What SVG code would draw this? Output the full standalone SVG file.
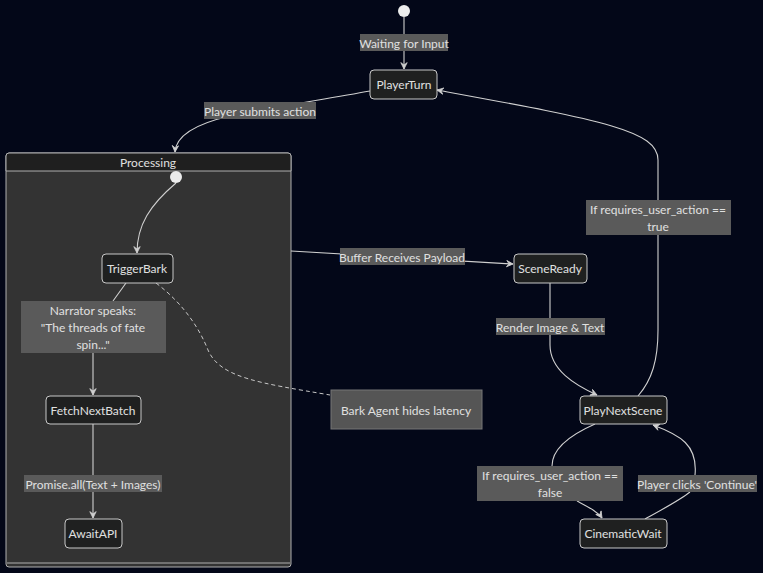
<svg xmlns="http://www.w3.org/2000/svg" width="763" height="573" viewBox="0 0 763 573">
<defs>
<marker id="arr" viewBox="0 0 10 10" refX="9" refY="5" markerWidth="8" markerHeight="8" orient="auto-start-reverse" markerUnits="userSpaceOnUse">
<path d="M1,1 L9,5 L1,9 L4,5 Z" fill="#d0d0d0" stroke="#d0d0d0" stroke-width="1"/>
</marker>
<style>
text{font-family:Lato,"Liberation Sans",Arial,sans-serif;font-size:12px;fill:#e0e0e0;text-anchor:middle;dominant-baseline:central}
.node rect{fill:#1f2020;stroke:#c8c8c8;stroke-width:1}
.lbl{fill:#5a5a5a}
.edge{fill:none;stroke:#d0d0d0;stroke-width:1.1;marker-end:url(#arr)}
.dash{fill:none;stroke:#c8c8c8;stroke-width:1;stroke-dasharray:4 3}
.start{fill:#ececec}
</style>
</defs>
<rect width="763" height="573" fill="#030718"/>

<g id="cluster-Processing">
<rect x="6" y="153" width="285" height="414" rx="3" fill="#333333" stroke="#b0b0b0" stroke-width="1"/>
<path d="M6,171 V156 a3,3 0 0 1 3,-3 H288 a3,3 0 0 1 3,3 V171 Z" fill="#1f1f1f" stroke="#b0b0b0" stroke-width="1"/>
<line x1="7" y1="563" x2="290" y2="563" stroke="#b0b0b0" stroke-width="1"/>
<text x="148" y="162">Processing</text>
</g>

<g id="connectors">
<path class="edge" d="M404,17 V69"/>
<path class="edge" d="M370,91 C320,100 270,108 230,116 C195,124 176,136 175,152"/>
<path class="edge" d="M176,183 C150,205 137,225 137,253"/>
<path class="edge" d="M126,283 L113,301 M93,353 V395"/>
<path class="edge" d="M93,424 V518"/>
<path class="dash" d="M156,283 C185,305 200,330 208,350 C220,378 260,383 330,395"/>
<path class="edge" d="M291,251 L513,264"/>
<path class="edge" d="M550,283 V345 C550,370 575,385 597,395"/>
<path class="edge" d="M638,396 C652,380 658,360 658,330 V160 C658,130 600,120 437,90"/>
<path class="edge" d="M595,424 C570,435 552,448 552,466 M577,501 C590,508 598,512 602,518"/>
<path class="edge" d="M645,519 C665,508 680,500 690,492 M695,475 C698,445 680,435 653,425"/>

<rect class="lbl" x="360" y="34" width="88" height="17"/>
<text x="404" y="43">Waiting for Input</text>
<rect class="lbl" x="204" y="102" width="112" height="17"/>
<text x="260" y="111">Player submits action</text>
<rect class="lbl" x="21" y="301" width="145" height="52"/>
<text x="93" y="310">Narrator speaks:</text>
<text x="93" y="327">"The threads of fate</text>
<text x="93" y="344">spin..."</text>
<rect class="lbl" x="24" y="475" width="138" height="17"/>
<text x="93" y="484">Promise.all(Text + Images)</text>
<rect class="lbl" x="340" y="248" width="125" height="17"/>
<text x="402" y="257">Buffer Receives Payload</text>
<rect class="lbl" x="496" y="318" width="109" height="17"/>
<text x="550" y="327">Render Image &amp; Text</text>
<rect class="lbl" x="586" y="200" width="145" height="35"/>
<text x="658" y="209">If requires_user_action ==</text>
<text x="658" y="226">true</text>
<rect class="lbl" x="477" y="466" width="146" height="35"/>
<text x="550" y="475">If requires_user_action ==</text>
<text x="550" y="492">false</text>
<rect class="lbl" x="638" y="475" width="119" height="17"/>
<text x="697" y="484">Player clicks 'Continue'</text>
</g>

<g id="start"><circle class="start" cx="404" cy="11" r="6"/></g>
<g id="Processing-start"><circle class="start" cx="176" cy="177" r="6"/></g>

<g id="PlayerTurn" class="node"><rect x="370" y="70" width="67" height="29" rx="4"/><text x="404" y="84">PlayerTurn</text></g>
<g id="TriggerBark" class="node"><rect x="102" y="254" width="71" height="29" rx="4"/><text x="137" y="268">TriggerBark</text></g>
<g id="FetchNextBatch" class="node"><rect x="46" y="396" width="95" height="28" rx="4"/><text x="93" y="410">FetchNextBatch</text></g>
<g id="AwaitAPI" class="node"><rect x="65" y="519" width="57" height="29" rx="4"/><text x="93" y="533">AwaitAPI</text></g>
<g id="SceneReady" class="node"><rect x="514" y="254" width="73" height="29" rx="4"/><text x="550" y="268">SceneReady</text></g>
<g id="PlayNextScene" class="node"><rect x="580" y="396" width="87" height="28" rx="4"/><text x="623" y="410">PlayNextScene</text></g>
<g id="CinematicWait" class="node"><rect x="580" y="519" width="87" height="29" rx="4"/><text x="623" y="533">CinematicWait</text></g>
<g id="note-BarkAgent"><rect x="331" y="390" width="151" height="39" fill="#555555" stroke="#777" stroke-width="1"/><text x="406" y="410">Bark Agent hides latency</text></g>
</svg>
